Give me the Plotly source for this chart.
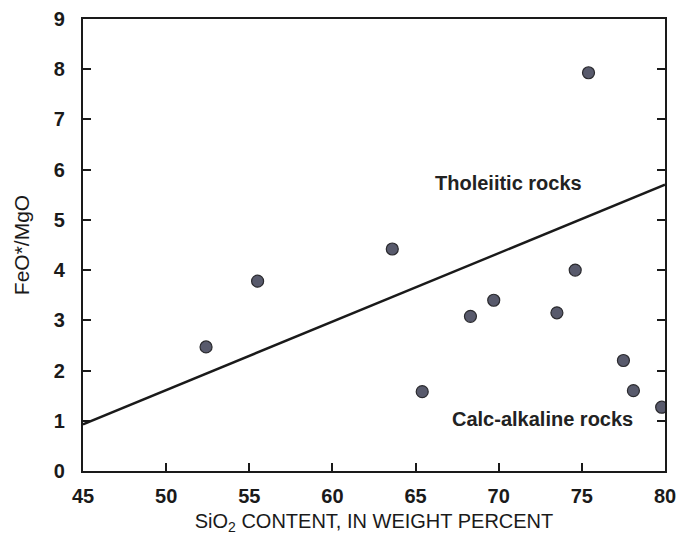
import plotly.graph_objects as go

# SiO2 (wt %) and FeO*/MgO for the analysed samples
sio2 = [52.4, 55.5, 63.6, 65.4, 68.3, 69.7, 73.5, 74.6, 75.4, 77.5, 78.1, 79.8]
feo_mgo = [2.47, 3.78, 4.42, 1.58, 3.08, 3.40, 3.15, 4.00, 7.93, 2.20, 1.60, 1.27]

# Tholeiitic / calc-alkaline dividing line
divide_x = [45, 80]
divide_y = [0.93, 5.70]

x_ticks = [45, 50, 55, 60, 65, 70, 75, 80]
y_ticks = [0, 1, 2, 3, 4, 5, 6, 7, 8, 9]

FONT = "Liberation Sans, Arial, sans-serif"
INK = "#1a1a1a"

fig = go.Figure()
fig.add_trace(go.Scatter(
    x=divide_x, y=divide_y, mode="lines",
    line=dict(color=INK, width=2.4), hoverinfo="skip", showlegend=False,
))
fig.add_trace(go.Scatter(
    x=sio2, y=feo_mgo, mode="markers",
    marker=dict(size=12, color="#585a6c", line=dict(color="#2a2a2e", width=1.2)),
    showlegend=False,
))

fig.add_annotation(x=66.05, y=5.73, xref="x", yref="y", xanchor="left", yanchor="middle",
                   text="Tholeiitic rocks", showarrow=False,
                   font=dict(family=FONT, size=20, color="#222222", weight="bold"))
fig.add_annotation(x=67.05, y=1.03, xref="x", yref="y", xanchor="left", yanchor="middle",
                   text="Calc-alkaline rocks", showarrow=False,
                   font=dict(family=FONT, size=20, color="#222222", weight="bold"))

axis_common = dict(
    showgrid=False, zeroline=False, showline=True, linecolor=INK, linewidth=2.4,
    ticks="inside", ticklen=8, tickwidth=2, tickcolor=INK, automargin=False,
    tickfont=dict(family=FONT, size=20, color=INK, weight="bold"),
)

fig.update_xaxes(
    range=[45, 80], tickvals=x_ticks, mirror=True, ticklabelstandoff=6,
    title=dict(text="SiO<sub>2</sub> CONTENT, IN WEIGHT PERCENT", standoff=8,
               font=dict(family=FONT, size=20, color=INK)),
    **axis_common,
)
fig.update_yaxes(
    range=[0, 9], tickvals=y_ticks, mirror="ticks", ticklabelstandoff=12,
    title=dict(text="FeO*/MgO", standoff=18,
               font=dict(family=FONT, size=21, color=INK)),
    **axis_common,
)

fig.update_layout(
    width=679, height=537,
    margin=dict(l=83, r=14, t=19, b=66),
    paper_bgcolor="white", plot_bgcolor="white",
)

fig.write_html("out.html")
